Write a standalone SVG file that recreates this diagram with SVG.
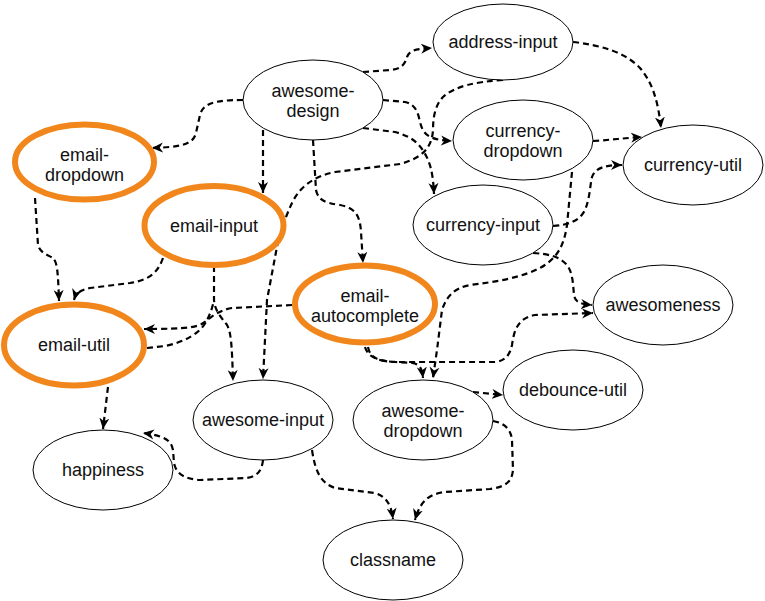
<svg xmlns="http://www.w3.org/2000/svg" width="765" height="601" viewBox="0 0 765 601">
<defs>
<style>
.n{fill:#fff;stroke:#000;stroke-width:1}
.h{fill:#fff;stroke:#f1871c;stroke-width:6}
.t{font-family:"Liberation Sans",Arial,sans-serif;font-size:18px;fill:#111;text-anchor:middle}
.e{fill:none;stroke:#000;stroke-width:2.2;stroke-dasharray:6 4}
.a{marker-end:url(#arr)}
</style>
<marker id="arr" viewBox="0 0 11 11" markerWidth="11" markerHeight="11" refX="11" refY="5.5" orient="auto" markerUnits="userSpaceOnUse">
<path d="M0,0.5 L11,5.5 L0,10.5 L3.3,5.5 Z" fill="#000"/>
</marker>
</defs>
<rect width="765" height="601" fill="#fff"/>
<g id="connectors">
<path class="e a" d="M243,100 C215,100 203,103 200,115 L196,133 C193,145 180,147 152,148"/>
<path class="e a" d="M263,130 L263,193"/>
<path class="e a" d="M313,140 L316,190 C318,200 325,203 340,205 C355,208 360,215 361,232 L363,263"/>
<path class="e a" d="M363,72 L390,70 C402,69 405,64 407,57 C410,50 415,49 432,48"/>
<path class="e a" d="M383,100 L405,102 C415,104 418,112 420,122 C423,134 428,140 452,141"/>
<path class="e a" d="M363,128 L395,132 C410,136 418,142 424,152 C430,162 433,172 434,194"/>
<path class="e a" d="M503,80 C475,82 455,86 443,97 C435,105 433,118 433,130 C432,148 422,158 400,164 L335,172 C315,176 300,186 292,203 C285,218 279,235 276,252 L267,300 L263,379"/>
<path class="e a" d="M573,42 C600,45 625,52 640,68 C652,82 658,100 661,128"/>
<path class="e a" d="M593,141 C610,140 625,138 642,137"/>
<path class="e a" d="M553,226 C570,225 580,220 585,210 C590,198 590,185 592,177 C595,168 605,165 622,165"/>
<path class="e a" d="M572,172 L567,225 C564,245 558,258 540,268 C520,278 495,282 470,285 C455,288 447,295 442,310 L437,350 L433,378"/>
<path class="e a" d="M533,253 C550,254 560,257 567,265 C573,273 573,285 574,295 C575,302 580,304 592,305"/>
<path class="e a" d="M365,347 C368,358 380,362 400,362 L495,362 C505,361 510,355 512,345 C514,330 518,318 535,315 L593,313"/>
<path class="e a" d="M368,347 C370,358 378,361 395,362 L412,363 C420,364 422,368 423,378"/>
<path class="e a" d="M292,305 L232,308 C220,310 212,316 205,322 C198,327 190,329 144,329"/>
<path class="e a" d="M163,258 C158,272 150,280 130,283 L90,288 C80,290 76,293 74,300"/>
<path class="e a" d="M35,198 L38,245 C40,253 48,255 53,258 C57,262 58,270 59,301"/>
<path class="e a" d="M214,266 L214,300 C215,312 222,318 227,325 C231,332 232,345 233,381"/>
<path class="e" d="M147,348 L165,346 C185,342 200,333 206,322 C211,313 213,305 214,300"/>
<path class="e a" d="M108,387 L103,429"/>
<path class="e a" d="M263,460 C262,470 258,476 247,478 L200,480 C185,479 176,474 174,463 L173,450 C171,440 165,436 143,433"/>
<path class="e a" d="M312,450 C315,470 320,483 335,488 L375,493 C385,496 391,503 393,519"/>
<path class="e a" d="M493,421 C505,423 511,430 512,440 L513,470 C512,482 505,487 490,489 L445,492 C428,494 420,502 415,520"/>
<path class="e a" d="M473,392 L503,395"/>
</g>
<g id="awesome-design"><ellipse class="n" cx="313" cy="100" rx="70" ry="40"/><text class="t" x="313" y="97">awesome-</text><text class="t" x="313" y="117">design</text></g>
<g id="address-input"><ellipse class="n" cx="503" cy="42" rx="70" ry="38"/><text class="t" x="503" y="48">address-input</text></g>
<g id="currency-dropdown"><ellipse class="n" cx="523" cy="140" rx="70" ry="40"/><text class="t" x="523" y="137">currency-</text><text class="t" x="523" y="157">dropdown</text></g>
<g id="currency-util"><ellipse class="n" cx="693" cy="165" rx="70" ry="40"/><text class="t" x="693" y="171">currency-util</text></g>
<g id="currency-input"><ellipse class="n" cx="483" cy="225" rx="70" ry="40"/><text class="t" x="483" y="231">currency-input</text></g>
<g id="awesomeness"><ellipse class="n" cx="663" cy="305" rx="70" ry="40"/><text class="t" x="663" y="311">awesomeness</text></g>
<g id="debounce-util"><ellipse class="n" cx="573" cy="390" rx="70" ry="40"/><text class="t" x="573" y="396">debounce-util</text></g>
<g id="awesome-dropdown"><ellipse class="n" cx="423" cy="420" rx="70" ry="40"/><text class="t" x="423" y="417">awesome-</text><text class="t" x="423" y="437">dropdown</text></g>
<g id="awesome-input"><ellipse class="n" cx="263" cy="420" rx="70" ry="40"/><text class="t" x="263" y="426">awesome-input</text></g>
<g id="happiness"><ellipse class="n" cx="103" cy="470" rx="70" ry="40"/><text class="t" x="103" y="476">happiness</text></g>
<g id="classname"><ellipse class="n" cx="393" cy="560" rx="70" ry="40"/><text class="t" x="393" y="566">classname</text></g>
<g id="email-dropdown"><ellipse class="h" cx="84.5" cy="162" rx="69.5" ry="37.5"/><text class="t" x="84.5" y="161">email-</text><text class="t" x="84.5" y="181">dropdown</text></g>
<g id="email-input"><ellipse class="h" cx="214" cy="225.5" rx="69.5" ry="39.5"/><text class="t" x="214" y="232">email-input</text></g>
<g id="email-autocomplete"><ellipse class="h" cx="365" cy="304" rx="70" ry="38.5"/><text class="t" x="365" y="302">email-</text><text class="t" x="365" y="322">autocomplete</text></g>
<g id="email-util"><ellipse class="h" cx="74" cy="345" rx="70" ry="40.5"/><text class="t" x="74" y="351">email-util</text></g>
</svg>
